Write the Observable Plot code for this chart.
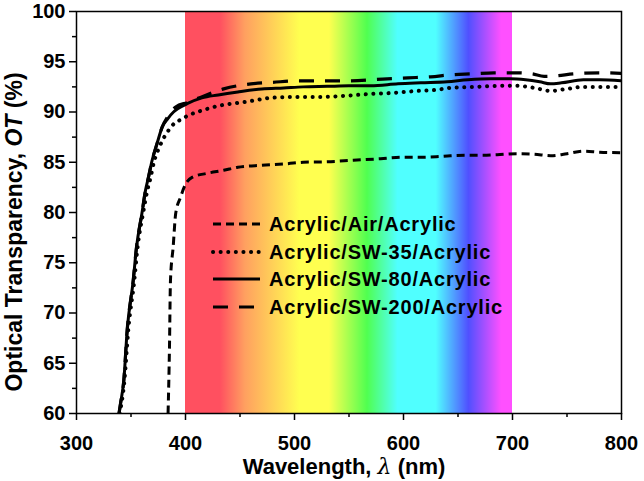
<!DOCTYPE html>
<html>
<head>
<meta charset="utf-8">
<script src="https://cdn.jsdelivr.net/npm/d3@7"></script>
<script src="https://cdn.jsdelivr.net/npm/@observablehq/plot@0.6"></script>
<style>
  html, body { margin: 0; padding: 0; background: #fff; }
  #chart { width: 644px; height: 481px; }
</style>
</head>
<body>
<div id="chart"></div>
<script>
// ---- axes ----
const xDomain = [300, 800];
const yDomain = [60, 100];
const xTicks = [300, 400, 500, 600, 700, 800];
const xMinorTicks = [350, 450, 550, 650, 750];
const yTicks = [60, 65, 70, 75, 80, 85, 90, 95, 100];
const yMinorTicks = [62.5, 67.5, 72.5, 77.5, 82.5, 87.5, 92.5, 97.5];

// ---- visible spectrum band ----
const bandRange = [400, 700];
const bandStopWl = [400, 432, 455, 505, 532, 567, 595, 630, 660, 690, 700];
const bandStopColor = ["#ff5060", "#ff5060", "#ffa060", "#ffff50", "#ffff50", "#50ff50", "#50ffff", "#50ffff", "#5050ff", "#ff50ff", "#ff50ff"];

// ---- series ----
const seriesNames = ["Acrylic/Air/Acrylic", "Acrylic/SW-35/Acrylic", "Acrylic/SW-80/Acrylic", "Acrylic/SW-200/Acrylic"];

const airWl  = [384, 385.3, 386.2, 388.7, 391, 395.4, 399.5, 406, 420, 435, 448, 470, 493, 508, 530, 554, 579, 600, 615, 630, 643, 660, 673, 686, 704, 720, 735, 750, 765, 780, 799];
const airVal = [60, 66.6, 73.2, 76.6, 79.9, 81.5, 82.7, 83.5, 83.9, 84.2, 84.5, 84.7, 84.85, 85.0, 85.05, 85.2, 85.35, 85.5, 85.5, 85.55, 85.65, 85.7, 85.7, 85.75, 85.85, 85.8, 85.65, 85.85, 86.1, 86.0, 85.95];

const sw35Wl  = [339.5, 344, 347.5, 353, 356, 361, 365, 368, 371, 376, 381, 386, 390, 395, 401.5, 416.5, 432, 455, 478, 500, 524, 545, 570, 590, 613, 630, 643, 665, 689, 705, 720, 735, 750, 765, 780, 800];
const sw35Val = [60, 63.3, 68.3, 73.2, 76.5, 79.9, 82.2, 83.5, 85.0, 86.5, 87.6, 88.4, 88.9, 89.2, 89.6, 90.2, 90.65, 91.0, 91.4, 91.5, 91.5, 91.6, 91.8, 91.9, 92.1, 92.2, 92.4, 92.5, 92.6, 92.6, 92.4, 92.1, 92.3, 92.5, 92.5, 92.5];

const sw80Wl  = [339, 340.4, 343.4, 346.5, 352, 355, 360, 363.3, 366, 369.4, 374, 378.6, 383.5, 389, 394, 402, 415, 430, 448, 470, 490, 508, 530, 550, 570, 595, 616, 640, 659, 680, 698, 712, 725, 735, 745, 765, 780, 800];
const sw80Val = [60, 61, 63.3, 68.3, 73.2, 76.5, 79.9, 82.2, 83.5, 85.2, 86.9, 88.5, 89.3, 90.0, 90.4, 90.85, 91.4, 91.7, 92.0, 92.3, 92.4, 92.5, 92.55, 92.6, 92.6, 92.8, 92.9, 93.0, 93.2, 93.3, 93.3, 93.2, 93.0, 92.8, 92.9, 93.2, 93.2, 93.1];

const sw200Wl  = [339, 340.4, 343.4, 346.5, 352, 355, 360, 363.3, 366, 369.4, 374, 378.6, 383.5, 391, 402, 417, 435, 460, 480, 503, 525, 549, 585, 604, 625, 643, 663, 683, 704, 718, 729, 740, 756, 780, 800];
const sw200Val = [60, 61, 63.3, 68.3, 73.2, 76.5, 79.9, 82.2, 83.5, 85.2, 86.9, 88.5, 89.5, 90.5, 90.95, 91.6, 92.3, 92.8, 92.95, 93.1, 93.1, 93.1, 93.3, 93.4, 93.5, 93.7, 93.8, 93.9, 93.9, 93.8, 93.55, 93.6, 93.8, 93.9, 93.85];

// ---- styles ----
const seriesStyle = [
  {dash: "8,5", width: 3, cap: "butt"},
  {dash: "0.1,7.5", width: 4, cap: "round"},
  {dash: null, width: 3, cap: "butt"},
  {dash: "15,11", width: 3.2, cap: "butt"}
];

const seriesWl = [airWl, sw35Wl, sw80Wl, sw200Wl];
const seriesVal = [airVal, sw35Val, sw80Val, sw200Val];
const seriesData = seriesWl.map((wl, i) => wl.map((w, j) => ({w, v: seriesVal[i][j]})));

const band = [{x1: bandRange[0], x2: bandRange[1], y1: yDomain[0], y2: yDomain[1]}];

const FONT = "'Liberation Sans', Arial, Helvetica, sans-serif";

const plot = Plot.plot({
  width: 644,
  height: 481,
  marginLeft: 76,
  marginRight: 23,
  marginTop: 11,
  marginBottom: 68,
  style: {fontFamily: FONT, fontWeight: "bold", fontSize: "20px", color: "black", background: "white"},
  x: {domain: xDomain},
  y: {domain: yDomain},
  marks: [
    Plot.rect(band, {x1: "x1", x2: "x2", y1: "y1", y2: "y2", fill: "url(#spectrum)"}),
    ...seriesData.map((d, i) => Plot.line(d, {
      x: "w", y: "v", stroke: "black",
      strokeWidth: seriesStyle[i].width,
      strokeDasharray: seriesStyle[i].dash,
      strokeLinecap: seriesStyle[i].cap,
      curve: "monotone-x",
      clip: true
    })),
    Plot.frame({stroke: "black", strokeWidth: 1.5}),
    Plot.axisX({ticks: xTicks, tickSize: 7, tickPadding: 15, tickFormat: d3.format("d"), label: null, fontSize: 20, fontWeight: "bold", strokeWidth: 1.5}),
    Plot.axisX({ticks: xMinorTicks, tickSize: 4, text: null, label: null, strokeWidth: 1.5}),
    Plot.axisY({ticks: yTicks, tickSize: 7, tickPadding: 4, tickFormat: d3.format("d"), label: null, fontSize: 20, fontWeight: "bold", strokeWidth: 1.5}),
    Plot.axisY({ticks: yMinorTicks, tickSize: 4, text: null, label: null, strokeWidth: 1.5})
  ]
});

const svg = d3.select(plot);
// gradient definition
const grad = svg.insert("defs", ":first-child").append("linearGradient")
  .attr("id", "spectrum").attr("x1", "0").attr("x2", "1").attr("y1", "0").attr("y2", "0");
bandStopWl.forEach((w, i) => {
  grad.append("stop")
    .attr("offset", (w - bandRange[0]) / (bandRange[1] - bandRange[0]))
    .attr("stop-color", bandStopColor[i]);
});

// axis labels
svg.append("text")
  .attr("x", 344).attr("y", 474)
  .attr("text-anchor", "middle")
  .style("font-family", FONT).style("font-weight", "bold").style("font-size", "22px")
  .call(t => {
    t.append("tspan").text("Wavelength, ");
    t.append("tspan").style("font-style", "italic").style("font-family", "'DejaVu Serif', serif").style("font-weight", "normal").text("λ");
    t.append("tspan").text(" (nm)");
  });

svg.append("text")
  .attr("transform", "translate(22,232) rotate(-90)")
  .attr("text-anchor", "middle")
  .style("font-family", FONT).style("font-weight", "bold").style("font-size", "23px")
  .call(t => {
    t.append("tspan").text("Optical Transparency, ");
    t.append("tspan").style("font-style", "italic").text("OT");
    t.append("tspan").text(" (%)");
  });

// legend inside plot
const legendRowY = [224, 252, 279, 307];
const lg = svg.append("g").attr("text-anchor", "start");
seriesNames.forEach((name, i) => {
  const st = seriesStyle[i];
  lg.append("line")
    .attr("x1", 213).attr("x2", 260).attr("y1", legendRowY[i]).attr("y2", legendRowY[i])
    .attr("stroke", "black").attr("stroke-width", st.width)
    .attr("stroke-dasharray", st.dash).attr("stroke-linecap", st.cap);
  lg.append("text")
    .attr("x", 269).attr("y", legendRowY[i]).attr("dy", "0.36em")
    .attr("text-anchor", "start")
    .style("font-family", FONT).style("font-weight", "bold").style("font-size", "20px")
    .style("letter-spacing", "0.8px")
    .text(name);
});

document.getElementById("chart").appendChild(plot);
</script>
</body>
</html>
